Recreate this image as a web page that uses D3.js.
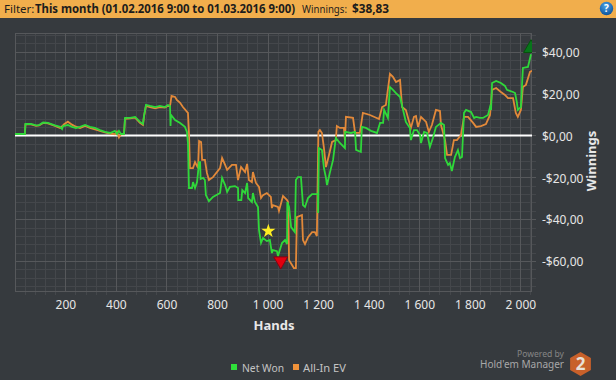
<!DOCTYPE html>
<html><head><meta charset="utf-8">
<script src="https://cdn.jsdelivr.net/npm/d3@7/dist/d3.min.js"></script>
<style>
html,body{margin:0;padding:0;background:#363a3e;overflow:hidden}
svg{display:block}
text{font-family:"Noto Sans",sans-serif}
</style></head><body>
<svg id="c" width="616" height="380"></svg>
<script>
const filterLabel="Filter:";
const filterText="This month (01.02.2016 9:00 to 01.03.2016 9:00)";
const winningsLabel="Winnings:";
const winningsText="$38,83";
const xTicks=[200,400,600,800,1000,1200,1400,1600,1800,2000];
const yTicks=[40,20,0,-20,-40,-60];
const seriesNames=["Net Won","All-In EV"];

const netWonHands=[1,40,42,64,84,96,112,131,159,179,187,191,210,226,242,258,278,297,317,337,357,377,396,404,412,420,432,436,456,476,495,507,511,519,535,555,574,594,606,614,616,618,634,654,673,681,685,689,701,705,713,721,729,733,735,745,752,756,768,784,812,820,832,840,851,871,883,884,896,900,911,919,923,938,942,950,962,966,974,982,997,1009,1017,1021,1037,1041,1057,1069,1077,1078,1085,1093,1108,1112,1120,1132,1140,1148,1160,1176,1187,1199,1200,1203,1215,1223,1231,1235,1247,1259,1270,1286,1306,1307,1330,1346,1350,1369,1373,1389,1409,1433,1445,1457,1461,1476,1484,1496,1508,1524,1536,1547,1563,1567,1579,1591,1603,1607,1619,1631,1642,1654,1666,1686,1698,1702,1714,1721,1729,1741,1753,1761,1769,1777,1785,1805,1817,1825,1840,1852,1872,1880,1884,1888,1904,1923,1939,1947,1971,1979,1986,1990,2002,2010,2030,2042];
const netWon=[0.7,0.7,5.5,5.5,4.8,5.0,6.2,6.0,4.8,4.1,3.1,4.5,5.0,4.1,3.6,4.1,5.0,4.1,3.6,2.6,1.7,1.2,2.2,0.7,2.2,0.7,0.7,8.4,8.4,8.9,6.5,5.5,9.3,14.6,14.1,13.6,14.1,13.6,14.6,14.1,4.5,9.8,7.4,6.0,4.1,1.7,-3.6,-25.1,-25.1,-22.3,-25.1,-22.3,-12.7,-12.7,-20.8,-20.3,-21.3,-28.5,-31.4,-29.4,-27.5,-20.3,-23.7,-27.0,-24.6,-24.2,-25.1,-30.9,-30.9,-26.1,-27.5,-22.7,-29.9,-31.8,-27.5,-31.8,-34.2,-45.2,-51.4,-49.0,-50.5,-50.0,-56.2,-54.8,-55.3,-57.7,-51.4,-50.0,-51.9,-31.8,-34.2,-43.8,-46.2,-21.3,-19.9,-19.9,-33.3,-34.2,-29.9,-28.0,-28.0,-28.0,-37.1,-6.0,-6.9,-15.6,-20.3,-23.7,-17.5,-11.7,-1.2,-3.6,-6.0,1.7,1.2,1.7,-6.9,-7.9,4.1,3.6,2.2,1.2,6.0,6.0,12.2,8.4,23.2,21.8,20.3,18.4,12.2,6.5,3.6,-2.2,2.6,2.6,0.2,-3.6,1.7,1.2,-5.5,-1.2,4.1,6.0,5.0,-10.8,-14.1,-13.2,-17.0,-10.3,-7.0,-10.8,-10.3,10.8,12.2,11.2,8.4,8.9,8.4,8.4,9.8,13.6,12.2,25.1,26.1,25.1,23.7,21.8,20.8,20.3,16.0,12.2,13.6,32.3,32.8,38.83];

const allInHands=[1,40,42,64,84,96,112,131,159,179,187,195,210,226,242,258,278,297,317,337,357,377,396,404,412,420,432,436,456,476,495,507,511,519,535,555,574,594,606,614,620,634,641,654,665,685,689,693,705,713,725,729,737,741,752,760,768,784,812,820,832,840,859,875,883,895,911,919,926,938,942,954,966,974,982,997,1013,1017,1021,1041,1045,1061,1077,1081,1085,1104,1112,1116,1136,1140,1148,1160,1176,1187,1195,1201,1207,1215,1223,1231,1243,1255,1270,1274,1286,1302,1306,1310,1338,1346,1365,1377,1405,1441,1453,1468,1484,1496,1508,1524,1532,1547,1567,1579,1587,1595,1607,1627,1638,1650,1666,1682,1686,1702,1710,1726,1737,1749,1765,1777,1793,1813,1825,1844,1864,1880,1888,1904,1923,1939,1951,1971,1982,1990,2002,2010,2022,2038,2046];
const allInEV=[0.7,0.7,5.3,5.3,4.6,4.8,6.0,5.8,4.6,3.6,4.4,5.4,6.6,5.2,4.2,3.6,4.6,3.6,2.9,2.2,1.5,0.9,0.6,1.8,-0.9,0.6,0.6,8.0,8.2,8.5,6.0,5.0,9.0,14.2,13.6,13.0,13.6,13.4,14.2,14.0,18.9,18.4,17.0,15.6,13.6,10.8,1.2,-15.6,-15.6,-12.7,-15.6,-2.6,-3.1,-11.7,-11.7,-17.9,-21.3,-19.9,-15.6,-10.8,-14.1,-16.5,-14.1,-14.1,-21.3,-15.1,-17.5,-13.6,-21.3,-22.3,-17.5,-22.7,-24.6,-29.9,-28.5,-27.5,-29.4,-34.7,-33.3,-34.2,-36.1,-28.9,-30.9,-31.8,-59.6,-63.4,-63.4,-39.0,-38.0,-50.0,-51.9,-48.6,-46.2,-46.2,-48.1,1.7,2.6,1.2,-6.0,-15.1,-9.3,-3.1,-2.2,4.5,3.6,3.6,-2.2,8.9,8.4,1.2,1.2,10.8,9.8,7.9,13.6,14.6,29.4,28.0,25.6,26.6,13.6,12.2,3.6,8.9,9.3,4.1,8.9,6.5,1.7,5.0,12.2,11.7,5.0,-2.2,-9.3,-9.3,-2.2,-2.2,0.2,8.9,8.9,6.0,4.1,4.5,5.5,9.8,21.8,22.7,20.8,19.4,17.9,17.9,10.8,8.9,12.2,23.2,24.2,30.4,30.9];

const starPoint=[1003,-45.7];
const minPoint=[1052,-60];
const maxPoint=[2042,41.7];

const svg=d3.select("#c");
const W=616,H=380;
const L=15,R=532,T=33,B=291;
const x=d3.scaleLinear().domain([0,2046]).range([14.8,532]);
const y=d3.scaleLinear().domain([49,-74.5]).range([33,291.3]);
const minorX=d3.range(40,2046,40).filter(v=>!xTicks.includes(v));
const minorY=d3.range(-72,49,4);

// header
svg.append("rect").attr("width",W).attr("height",18).attr("fill","#f1ae4c");
const hdr=svg.append("g").attr("font-size",11.5).attr("fill","#1c1c1c");
hdr.append("text").attr("x",4).attr("y",13).text(filterLabel);
hdr.append("text").attr("x",35).attr("y",13).attr("font-weight","bold").attr("textLength",260).attr("lengthAdjust","spacingAndGlyphs").text(filterText);
hdr.append("text").attr("x",302).attr("y",13).attr("textLength",45).attr("lengthAdjust","spacingAndGlyphs").text(winningsLabel);
hdr.append("text").attr("x",352).attr("y",13).attr("font-weight","bold").attr("textLength",37).attr("lengthAdjust","spacingAndGlyphs").text(winningsText);
// help icon
const defs=svg.append("defs");
const grad=defs.append("radialGradient").attr("id","hb").attr("cx","45%").attr("cy","30%").attr("r","75%");
grad.append("stop").attr("offset","0%").attr("stop-color","#4aa3e8");
grad.append("stop").attr("offset","100%").attr("stop-color","#0b4f96");
svg.append("circle").attr("cx",606.5).attr("cy",8.5).attr("r",6.7).attr("fill","url(#hb)");
svg.append("text").attr("x",606.5).attr("y",12).attr("text-anchor","middle").attr("font-size",10).attr("font-weight","bold").attr("fill","#fff").text("?");

defs.append("clipPath").attr("id","pc").append("rect").attr("x",L).attr("y",T).attr("width",R-L).attr("height",B-T);

// grid (built from axes)
const minorGridX=d3.axisBottom(x).tickValues(minorX).tickSize(-(B-T)-4).tickFormat("");
svg.append("g").attr("class","gmin").attr("transform",`translate(0,${B+4})`).call(minorGridX);
const minorGridY=d3.axisRight(y).tickValues(minorY).tickSize(-(R-L)-4).tickFormat("");
svg.append("g").attr("class","gmin").attr("transform",`translate(${R+4},0)`).call(minorGridY);
svg.selectAll(".gmin .domain").remove();
svg.selectAll(".gmin line").attr("stroke","#44474b").attr("stroke-width",1).attr("shape-rendering","crispEdges");

const majorGridX=d3.axisBottom(x).tickValues(xTicks).tickSize(-(B-T)).tickFormat("");
svg.append("g").attr("class","gmaj").attr("transform",`translate(0,${B})`).call(majorGridX);
const majorGridY=d3.axisRight(y).tickValues(yTicks).tickSize(-(R-L)-4).tickFormat("");
svg.append("g").attr("class","gmaj").attr("transform",`translate(${R+4},0)`).call(majorGridY);
svg.selectAll(".gmaj .domain").remove();
svg.selectAll(".gmaj line").attr("stroke","#56585b").attr("stroke-width",1).attr("shape-rendering","crispEdges");

svg.append("rect").attr("x",L+.5).attr("y",T+.5).attr("width",R-L-1).attr("height",B-T).attr("fill","none").attr("stroke","#56585b").attr("shape-rendering","crispEdges");

// tick labels
const fmtX=d=>{const s=String(d);return s.length>3?s.slice(0,-3)+" "+s.slice(-3):s;};
const fmtY=d=>(d<0?"-":"")+"$"+Math.abs(d)+",00";
const axX=svg.append("g").attr("class","tl").attr("transform",`translate(0,${B})`).call(d3.axisBottom(x).tickValues(xTicks).tickSize(0).tickPadding(9.5).tickFormat(fmtX));
const axY=svg.append("g").attr("class","tl").attr("transform",`translate(${R},0)`).call(d3.axisRight(y).tickValues(yTicks).tickSize(0).tickPadding(10).tickFormat(fmtY));
axX.select(".domain").remove(); axY.select(".domain").remove();
svg.selectAll(".tl text").attr("font-size",12).attr("font-family","Noto Sans").attr("fill","#e6e6e6");
axY.selectAll("text").attr("dy","0.4em");

// zero line
svg.append("line").attr("x1",L).attr("x2",R).attr("y1",y(0)).attr("y2",y(0)).attr("stroke","#fff").attr("stroke-width",2);

// series
const lineGen=(h)=>d3.line().x((d,i)=>x(h[i])).y(d=>y(d));
svg.append("path").datum(allInEV).attr("d",lineGen(allInHands)).attr("fill","none").attr("stroke","#e2893a").attr("stroke-width",1.8).attr("clip-path","url(#pc)");
svg.append("path").datum(netWon).attr("d",lineGen(netWonHands)).attr("fill","none").attr("stroke","#2fd83a").attr("stroke-width",1.8).attr("clip-path","url(#pc)");

// markers
const triUp=d3.symbol().type(d3.symbolTriangle).size(95);
const triDown=d3.symbol().type(d3.symbolTriangle).size(85);
svg.append("g").attr("clip-path","url(#pc)").append("path").attr("d",triUp()).attr("transform",`translate(${x(maxPoint[0])},${y(maxPoint[1])})`).attr("fill","#07761a").attr("stroke","#06520c");
svg.append("path").attr("d",triDown()).attr("transform",`translate(${x(minPoint[0])},${y(minPoint[1])}) rotate(180)`).attr("fill","#e0000f").attr("stroke","#8c0010");
svg.append("path").attr("d",d3.symbol().type(d3.symbolStar).size(62)()).attr("transform",`translate(${x(starPoint[0])},${y(starPoint[1])})`).attr("fill","#ffee22");

// axis titles
svg.append("text").attr("x",274).attr("y",330).attr("text-anchor","middle").attr("font-size",13).attr("font-weight","bold").attr("fill","#e8e8e8").text("Hands");
svg.append("text").attr("transform","translate(596,161) rotate(-90)").attr("text-anchor","middle").attr("font-size",13).attr("font-weight","bold").attr("fill","#e8e8e8").text("Winnings");

// legend
const legX=[231,293];
const legText=[242,303];
const legLen=[42,43];
const legCol=["#2fe03a","#f0923a"];
seriesNames.forEach((n,i)=>{
  svg.append("rect").attr("x",legX[i]).attr("y",364).attr("width",6).attr("height",6).attr("fill",legCol[i]);
  svg.append("text").attr("x",legText[i]).attr("y",372).attr("font-size",11.5).attr("textLength",legLen[i]).attr("lengthAdjust","spacingAndGlyphs").attr("fill","#c4c4c4").text(n);
});

// logo
svg.append("text").attr("x",517).attr("y",357).attr("font-size",9.5).attr("textLength",47).attr("lengthAdjust","spacingAndGlyphs").attr("fill","#858585").text("Powered by");
svg.append("text").attr("x",480).attr("y",368).attr("font-size",11).attr("textLength",84).attr("lengthAdjust","spacingAndGlyphs").attr("fill","#a8a8a8").text("Hold'em Manager");
const hex=d3.range(6).map(i=>{const a=Math.PI/3*i-Math.PI/2;return [580.5+12*Math.cos(a),364+12*Math.sin(a)];});
svg.append("path").attr("d",d3.line()(hex)+"Z").attr("fill","#c8602a");
svg.append("text").attr("x",580.5).attr("y",370).attr("text-anchor","middle").attr("font-size",17).attr("font-weight","bold").attr("fill","#e8e0d8").text("2");
</script>
</body></html>
